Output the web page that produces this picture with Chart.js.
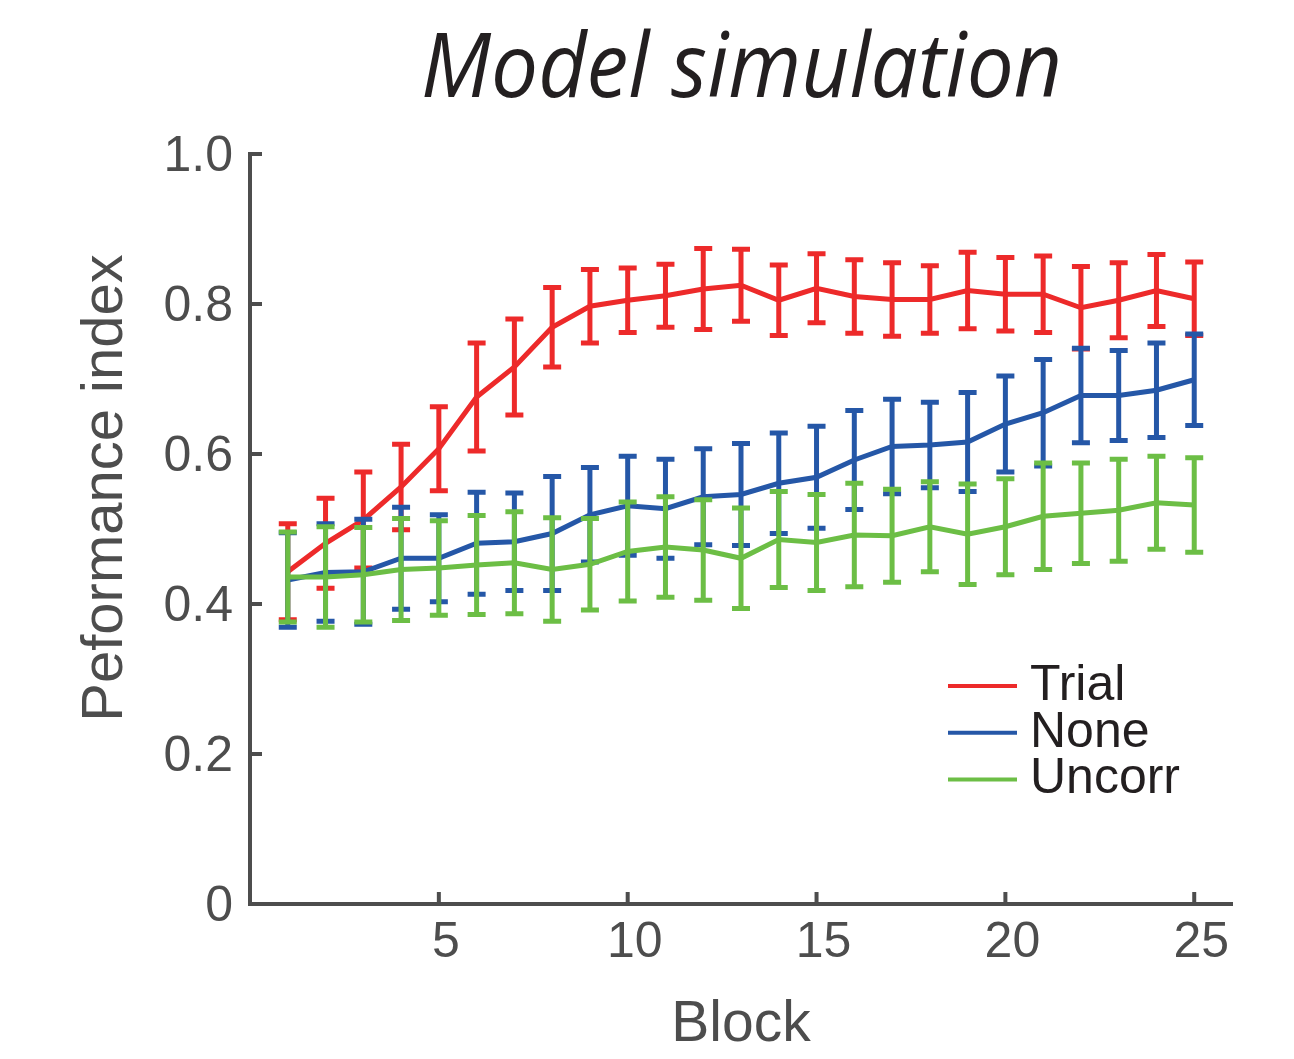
<!DOCTYPE html>
<html>
<head>
<meta charset="utf-8">
<script src="https://cdn.jsdelivr.net/npm/chart.js@4/dist/chart.umd.min.js"></script>
<style>
  html, body { margin: 0; padding: 0; background: #ffffff; }
  #wrap { width: 1294px; height: 1059px; }
</style>
</head>
<body>
<div id="wrap"><canvas id="c" width="1294" height="1059"></canvas></div>
<script>
const blocks = [1, 2, 3, 4, 5, 6, 7, 8, 9, 10, 11, 12, 13, 14, 15, 16, 17, 18, 19, 20, 21, 22, 23, 24, 25];
const seriesNames = ['Trial', 'None', 'Uncorr'];
const trialMean = [0.443, 0.481, 0.512, 0.556, 0.607, 0.676, 0.716, 0.769, 0.797, 0.805, 0.811, 0.820, 0.825, 0.805, 0.821, 0.810, 0.806, 0.806, 0.818, 0.813, 0.813, 0.795, 0.805, 0.818, 0.807];
const trialErr  = [0.064, 0.060, 0.064, 0.057, 0.056, 0.072, 0.064, 0.053, 0.049, 0.043, 0.042, 0.054, 0.048, 0.047, 0.046, 0.049, 0.049, 0.045, 0.051, 0.049, 0.051, 0.055, 0.050, 0.048, 0.049];
const noneMean  = [0.432, 0.442, 0.443, 0.461, 0.461, 0.481, 0.483, 0.494, 0.519, 0.531, 0.527, 0.543, 0.546, 0.561, 0.569, 0.592, 0.610, 0.612, 0.616, 0.640, 0.655, 0.678, 0.678, 0.685, 0.699];
const noneErr   = [0.063, 0.065, 0.070, 0.068, 0.058, 0.068, 0.065, 0.076, 0.063, 0.066, 0.066, 0.064, 0.068, 0.067, 0.068, 0.066, 0.063, 0.057, 0.066, 0.064, 0.071, 0.063, 0.060, 0.063, 0.061];
const uncorrMean = [0.436, 0.436, 0.439, 0.446, 0.448, 0.452, 0.455, 0.446, 0.453, 0.470, 0.476, 0.472, 0.461, 0.486, 0.482, 0.492, 0.491, 0.503, 0.493, 0.503, 0.517, 0.521, 0.525, 0.535, 0.532];
const uncorrErr  = [0.060, 0.067, 0.063, 0.068, 0.063, 0.066, 0.068, 0.069, 0.061, 0.066, 0.067, 0.067, 0.067, 0.064, 0.064, 0.069, 0.062, 0.060, 0.067, 0.064, 0.071, 0.067, 0.068, 0.062, 0.063];
const xTickValues = [5, 10, 15, 20, 25];
const yTickValues = [0, 0.2, 0.4, 0.6, 0.8, 1.0];
const titleText = 'Model simulation';
const xTitle = 'Block';
const yTitle = 'Peformance index';

const COLORS = ['#ED2A2A', '#2557A7', '#6CBE45'];
const AXIS = '#4D4D4D';
const INK = '#231F20';

function pts(means) { return blocks.map((b, i) => ({ x: b, y: means[i] })); }
const errs = [trialErr, noneErr, uncorrErr];

const errorBarPlugin = {
  id: 'errorBars',
  afterDatasetDraw(chart, args) {
    const i = args.index;
    const ds = chart.data.datasets[i];
    const err = errs[i];
    const ys = chart.scales.y;
    const ctx = chart.ctx;
    ctx.save();
    ctx.strokeStyle = ds.borderColor;
    ctx.lineWidth = 5;
    ctx.lineCap = 'butt';
    args.meta.data.forEach((pt, k) => {
      const v = ds.data[k].y;
      const top = ys.getPixelForValue(v + err[k]);
      const bot = ys.getPixelForValue(v - err[k]);
      ctx.beginPath();
      ctx.moveTo(pt.x, top); ctx.lineTo(pt.x, bot);
      ctx.moveTo(pt.x - 9, top); ctx.lineTo(pt.x + 9, top);
      ctx.moveTo(pt.x - 9, bot); ctx.lineTo(pt.x + 9, bot);
      ctx.stroke();
    });
    ctx.restore();
  }
};

const decorPlugin = {
  id: 'decor',
  afterDraw(chart) {
    const ctx = chart.ctx;
    const xs = chart.scales.x, ys = chart.scales.y;
    const area = chart.chartArea;
    ctx.save();
    // inward ticks
    ctx.strokeStyle = AXIS;
    ctx.lineWidth = 4;
    xTickValues.forEach(v => {
      const px = xs.getPixelForValue(v);
      ctx.beginPath(); ctx.moveTo(px, area.bottom); ctx.lineTo(px, area.bottom - 12); ctx.stroke();
    });
    yTickValues.forEach(v => {
      if (v === 0) return;
      const py = ys.getPixelForValue(v);
      ctx.beginPath(); ctx.moveTo(area.left, py); ctx.lineTo(area.left + 12, py); ctx.stroke();
    });
    // title
    ctx.fillStyle = INK;
    ctx.font = 'italic 400 90px "Open Sans"';
    ctx.textBaseline = 'alphabetic';
    ctx.textAlign = 'left';
    const w = ctx.measureText(titleText).width;
    const targetW = 641;
    const sx = targetW / w;
    ctx.save();
    ctx.translate(421, 97);
    ctx.scale(sx, 1);
    ctx.fillText(titleText, 0, 0);
    ctx.restore();
    // y axis title
    ctx.save();
    ctx.fillStyle = AXIS;
    ctx.font = '58px "Liberation Sans"';
    ctx.translate(122, 488);
    ctx.rotate(-Math.PI / 2);
    ctx.textAlign = 'center';
    ctx.textBaseline = 'alphabetic';
    ctx.fillText(yTitle, 0, 0);
    ctx.restore();
    // legend
    ctx.font = '50px "Liberation Sans"';
    ctx.textAlign = 'left';
    ctx.textBaseline = 'alphabetic';
    chart.data.datasets.forEach((ds, k) => {
      const ly = 686 + k * 46.7;
      ctx.strokeStyle = ds.borderColor;
      ctx.lineWidth = 4;
      ctx.beginPath(); ctx.moveTo(948, ly); ctx.lineTo(1017, ly); ctx.stroke();
      ctx.fillStyle = INK;
      ctx.fillText(ds.label, 1030, ly + 14);
    });
    ctx.restore();
  }
};

const chart = new Chart(document.getElementById('c'), {
  type: 'line',
  data: {
    datasets: [
      { label: seriesNames[0], data: pts(trialMean), borderColor: COLORS[0], backgroundColor: COLORS[0], order: 2 },
      { label: seriesNames[1], data: pts(noneMean), borderColor: COLORS[1], backgroundColor: COLORS[1], order: 1 },
      { label: seriesNames[2], data: pts(uncorrMean), borderColor: COLORS[2], backgroundColor: COLORS[2], order: 0 }
    ]
  },
  options: {
    responsive: false,
    animation: false,
    devicePixelRatio: 1,
    elements: {
      line: { borderWidth: 5, tension: 0, fill: false, borderJoinStyle: 'miter' },
      point: { radius: 0, hoverRadius: 0 }
    },
    layout: { padding: { top: 154, left: 0, right: 62, bottom: 0 } },
    plugins: { legend: { display: false }, tooltip: { enabled: false }, title: { display: false } },
    scales: {
      x: {
        type: 'linear', min: 0, max: 26,
        afterFit(s) { s.height = 155; },
        afterBuildTicks(s) { s.ticks = xTickValues.map(v => ({ value: v })); },
        ticks: { color: AXIS, font: { family: '"Liberation Sans"', size: 50 }, padding: 9, labelOffset: 7, maxRotation: 0, autoSkip: false },
        grid: { display: true, drawOnChartArea: false, drawTicks: false },
        border: { display: true, color: AXIS, width: 4 },
        title: { display: true, text: xTitle, color: AXIS, font: { family: '"Liberation Sans"', size: 57 }, padding: 0 }
      },
      y: {
        type: 'linear', min: 0, max: 1,
        afterFit(s) { s.width = 250; },
        afterBuildTicks(s) { s.ticks = yTickValues.map(v => ({ value: v })); },
        ticks: { color: AXIS, font: { family: '"Liberation Sans"', size: 50 }, padding: 17, labelOffset: 3,
          callback: v => (v === 0 ? '0' : v.toFixed(1)) },
        grid: { display: true, drawOnChartArea: false, drawTicks: false },
        border: { display: true, color: AXIS, width: 4 }
      }
    }
  },
  plugins: [errorBarPlugin, decorPlugin]
});
</script>
</body>
</html>
